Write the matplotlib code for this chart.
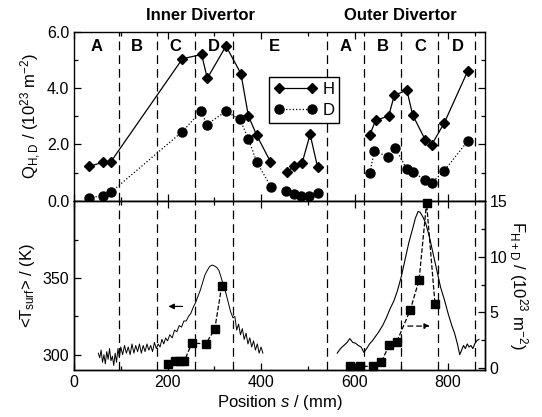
import matplotlib
matplotlib.use("Agg")
import matplotlib.pyplot as plt
from matplotlib.ticker import MultipleLocator, FixedLocator, FormatStrFormatter

plt.rcParams['font.family'] = ['Liberation Sans', 'DejaVu Sans']
plt.rcParams['mathtext.fontset'] = 'custom'
plt.rcParams['mathtext.rm'] = 'Liberation Sans'
plt.rcParams['mathtext.it'] = 'Liberation Sans:italic'
plt.rcParams['mathtext.bf'] = 'Liberation Sans:bold'

# Q_H and Q_D emission along the divertor, one list per connected group
h_groups_s = [[32, 63, 79, 232, 273, 285, 325, 357, 373, 391, 420],
              [455, 471, 488, 505, 521],
              [633, 645, 673, 685, 712, 724, 751, 765, 792, 842]]
h_groups_q = [[1.22, 1.37, 1.39, 5.05, 5.2, 4.35, 5.5, 4.52, 3.01, 2.32, 1.39],
              [1.01, 1.23, 1.35, 2.36, 1.19],
              [2.35, 2.86, 3.01, 3.75, 3.93, 3.06, 2.17, 1.99, 2.77, 4.61]]

d_groups_s = [[32, 63, 79, 232, 272, 284, 325, 355, 373, 391, 421],
              [453, 471, 486, 502, 521],
              [633, 642, 672, 687, 712, 724, 751, 765, 792, 842]]
d_groups_q = [[0.1, 0.18, 0.3, 2.46, 3.19, 2.71, 3.18, 2.89, 2.2, 1.37, 0.5],
              [0.33, 0.24, 0.15, 0.15, 0.26],
              [0.99, 1.76, 1.57, 1.87, 1.11, 1.01, 0.75, 0.63, 1.07, 2.12]]

# region boundaries and labels
bounds = [97, 178, 259, 340, 541, 620, 700, 779, 858]
reg_s = [48, 135, 216, 300, 428, 580, 660, 740, 822]
reg_names = ['A', 'B', 'C', 'D', 'E', 'A', 'B', 'C', 'D']

# surface temperature, inner and outer divertor
tin_s = [52, 55, 58, 61, 64, 67, 70, 73, 76, 79, 82, 85, 88, 91, 94, 97,
         100, 104, 108, 112, 116, 120, 124, 128, 132, 136, 140, 144, 148,
         152, 156, 160, 164, 168, 172, 176, 180, 184, 188, 192, 196, 200,
         205, 210, 215, 220, 225, 230, 235, 240, 245, 250, 255, 260, 265,
         270, 275, 280, 285, 290, 295, 300, 305, 310, 315, 320, 325, 330,
         335, 340, 344, 348, 352, 356, 360, 364, 368, 372, 376, 380, 384,
         388, 392, 396, 400, 404]
tin_t = [301, 298, 303, 295, 300, 294, 302, 297, 304, 296, 299, 293, 301,
         295, 304, 298, 305, 300, 306, 301, 305, 300, 307, 301, 306, 302,
         307, 301, 306, 302, 307, 303, 306, 302, 308, 304, 307, 305, 310,
         307, 311, 309, 313, 311, 316, 315, 319, 318, 322, 322, 325, 327,
         331, 334, 338, 342, 347, 352, 355, 357.5, 358.5, 358, 357, 355,
         350, 345, 340, 334, 328, 324, 325, 316, 320, 313, 317, 310, 314,
         307, 311, 305, 309, 303, 307, 301, 305, 301]

tout_s = [563, 570, 577, 584, 590, 596, 602, 608, 614, 620, 626, 632, 638,
          645, 652, 660, 668, 676, 684, 692, 700, 708, 716, 724, 730, 736,
          740, 746, 752, 760, 768, 776, 784, 792, 800, 808, 814, 820, 825,
          829, 833, 837, 841, 845, 849, 853, 857, 861, 866]
tout_t = [301, 304, 306, 308, 310.5, 308, 307.5, 306, 305, 301.5, 304, 307,
          309, 312, 315, 319, 324, 330, 335, 342, 351, 362, 373, 382, 389,
          393.5, 393, 390, 386, 377, 366, 355, 344, 336, 327, 319, 314, 307,
          300, 303, 306, 304, 307, 305, 306, 304, 307, 309, 310]

# particle fluence F_H+D
fin_s = [202, 217, 227, 236, 252, 282, 301, 316]
fin_f = [0.4, 0.65, 0.7, 0.65, 2.25, 2.2, 3.5, 7.4]
fout_s = [590, 611, 639, 657, 674, 690, 719, 738, 754, 772]
fout_f = [0.22, 0.18, 0.18, 0.56, 2.05, 2.35, 5.2, 7.9, 14.8, 5.8]

W, H = 542, 417
fig = plt.figure(figsize=(W / 100, H / 100), dpi=100)
left, right = 74 / W, 485 / W
y_top, y_mid, y_bot = 1 - 32 / H, 1 - 200.7 / H, 1 - 370 / H
ax1 = fig.add_axes([left, y_mid, right - left, y_top - y_mid])
ax2 = fig.add_axes([left, y_bot, right - left, y_mid - y_bot], sharex=ax1)
ax3 = ax2.twinx()

fs = 11.5
lfs = 12

# top panel
for i, (s, q) in enumerate(zip(h_groups_s, h_groups_q)):
    ax1.plot(s, q, '-', color='black', lw=0.9, marker='D', ms=5,
             mfc='black', mec='black', label='H' if i == 0 else None)
for i, (s, q) in enumerate(zip(d_groups_s, d_groups_q)):
    ax1.plot(s, q, ':', color='black', lw=0.9, marker='o', ms=6.5,
             mfc='black', mec='black', label='D' if i == 0 else None)
ax1.set_ylim(0, 6)
ax1.yaxis.set_major_locator(MultipleLocator(2))
ax1.yaxis.set_minor_locator(MultipleLocator(1))
ax1.yaxis.set_major_formatter(FormatStrFormatter('%.1f'))
ax1.set_ylabel(r'Q$_{\rm H,D}$ / (10$^{23}$ m$^{-2}$)', fontsize=lfs,
               labelpad=3)
for name, s in zip(reg_names, reg_s):
    ax1.text(s, 5.5, name, ha='center', va='center', fontsize=12,
             fontweight='bold')
leg = ax1.legend(loc='upper left', bbox_to_anchor=(269 / W, 1 - 77 / H),
                 bbox_transform=fig.transFigure, borderaxespad=0,
                 fancybox=False, edgecolor='black', framealpha=1,
                 numpoints=2, handlelength=2.6, handletextpad=0.3,
                 borderpad=0.3, labelspacing=0.35, fontsize=12)
leg.get_frame().set_linewidth(1.0)

# bottom panel
ax2.plot(tin_s, tin_t, '-', color='black', lw=0.7)
ax2.plot(tout_s, tout_t, '-', color='black', lw=0.8)
ax2.set_ylim(290, 400.5)
ax2.yaxis.set_major_locator(FixedLocator([300, 350]))
ax2.yaxis.set_minor_locator(FixedLocator([325, 375]))
ax2.set_ylabel(r'<T$_{\rm surf}$> / (K)', fontsize=lfs, labelpad=4)
ax2.annotate('', xy=(196, 331.5), xytext=(238, 331.5),
             arrowprops=dict(arrowstyle='-|>', color='black', lw=0.9,
                             mutation_scale=8))

ax3.plot(fin_s, fin_f, '--', color='black', lw=0.9, marker='s', ms=5.5,
         clip_on=False)
ax3.plot(fout_s, fout_f, '--', color='black', lw=0.9, marker='s', ms=5.5,
         clip_on=False)
ax3.set_ylim(-0.15, 15)
ax3.yaxis.set_major_locator(MultipleLocator(5))
ax3.yaxis.set_minor_locator(MultipleLocator(2.5))
ax3.set_ylabel(r'F$_{\rm H+D}$ / (10$^{23}$ m$^{-2}$)', fontsize=lfs,
               rotation=270, labelpad=16)
ax3.annotate('', xy=(767, 3.78), xytext=(708, 3.78),
             arrowprops=dict(arrowstyle='-|>', color='black', lw=0.9,
                             ls=(0, (4, 3)), mutation_scale=8))

ax1.set_xlim(0, 879)
ax1.xaxis.set_major_locator(MultipleLocator(200))
ax1.xaxis.set_minor_locator(MultipleLocator(100))
ax2.set_xlabel(r'Position $s$ / (mm)', fontsize=lfs, labelpad=2)
plt.setp(ax1.get_xticklabels(), visible=False)

for ax in (ax1, ax2):
    for b in bounds:
        ax.axvline(b, color='black', lw=0.9, dashes=(7, 4))

for ax in (ax1, ax2, ax3):
    ax.tick_params(which='both', direction='in', labelsize=fs,
                   width=0.9)
    ax.tick_params(which='major', length=5)
    ax.tick_params(which='minor', length=3)
    for sp in ax.spines.values():
        sp.set_linewidth(1.0)
ax1.tick_params(which='both', top=True, right=True)
ax2.tick_params(which='both', top=True)

fig.text(200 / W, 1 - 16 / H, 'Inner Divertor', ha='center', va='center',
         fontsize=12, fontweight='bold')
fig.text(400 / W, 1 - 16 / H, 'Outer Divertor', ha='center', va='center',
         fontsize=12, fontweight='bold')

fig.savefig('out.png', dpi=100)
